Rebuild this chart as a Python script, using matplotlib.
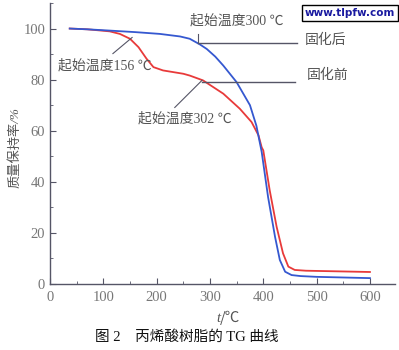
import numpy as np
import matplotlib.pyplot as plt
from matplotlib.ticker import MultipleLocator

plt.rcParams['font.family'] = ['Liberation Serif', 'Noto Sans CJK SC', 'DejaVu Sans']

# 固化后 (blue)
t_after = [37, 70, 112, 160, 206, 244, 262, 281, 294, 310, 325, 350, 375, 387, 397,
           409, 422, 431, 441, 453, 470, 500, 600]
w_after = [100, 99.7, 99.2, 98.6, 97.9, 96.9, 96.0, 93.8, 92.0, 89.0, 85.5, 79, 70, 62, 51.7,
           34, 18.5, 9.4, 4.8, 3.5, 3.1, 2.8, 2.3]
# 固化前 (red)
t_before = [37, 70, 112, 131, 150, 166, 181, 194, 212, 250, 262, 287, 325, 356, 378, 391, 397,
            400, 412, 425, 437, 447, 459, 480, 600]
w_before = [100, 99.7, 98.9, 97.9, 96.0, 92.7, 88.2, 84.9, 83.6, 82.3, 81.6, 79.7, 74.5, 68.6,
            63.4, 58.2, 53.5, 52.3, 36.7, 22.4, 12, 6.8, 5.5, 5.2, 4.7]

xticks = [0, 100, 200, 300, 400, 500, 600]
yticks = [0, 20, 40, 60, 80, 100]

fig = plt.figure(figsize=(3.99, 3.5), dpi=100)
ax = fig.add_axes([50/399, 66/350, 345/399, 281/350])
ax.plot(t_before, w_before, color='#e83a3a', lw=1.3)
ax.plot(t_after, w_after, color='#3558d0', lw=1.3)
ax.set_xlim(0, 647)
ax.set_ylim(0, 110)
ax.set_xticks(xticks)
ax.set_yticks(yticks)
ax.xaxis.set_minor_locator(MultipleLocator(50))
ax.yaxis.set_minor_locator(MultipleLocator(10))
for s in ['top', 'right']:
    ax.spines[s].set_visible(False)
for s in ['left', 'bottom']:
    ax.spines[s].set_color('#555566')
    ax.spines[s].set_linewidth(1.0)
ax.tick_params(which='both', direction='in', colors='#555566', labelcolor='#777777', labelsize=10.5)
ax.tick_params(which='major', length=4)
ax.tick_params(which='minor', length=2.5)
ax.tick_params(axis='x', pad=5)

# annotations
lc = '#555566'
tc = '#555555'
fs = 10
ax.plot([118, 154], [90.2, 96.5], color=lc, lw=0.8)
ax.text(103, 85.5, '起始温度156 ℃', ha='center', va='center', fontsize=fs, color=tc)
ax.plot([234, 285], [69.1, 79.7], color=lc, lw=0.8)
ax.text(253, 64.8, '起始温度302 ℃', ha='center', va='center', fontsize=fs, color=tc)
ax.plot([277.5, 277.5], [98, 94.3], color=lc, lw=0.8)
ax.plot([277.5, 463], [94.3, 94.3], color=lc, lw=1.0)
ax.text(262, 103, '起始温度300 ℃', ha='left', va='center', fontsize=fs, color=tc)
ax.text(478, 95.3, '固化后', ha='left', va='center', fontsize=fs, color=tc)
ax.plot([285, 459], [79, 79], color=lc, lw=1.0)
ax.text(482, 81.6, '固化前', ha='left', va='center', fontsize=fs, color=tc)

fig.text(15/399, 1 - 148/350, '质量保持率/%', rotation=90, ha='center', va='center',
         fontsize=9.5, color=tc, style='italic')
fig.text(220/399, 1 - 318/350, 't', ha='right', va='center', fontsize=10.5, color=tc, style='italic')
fig.text(220/399, 1 - 318/350, '/℃', ha='left', va='center', fontsize=10.5, color=tc,
         family=['Noto Sans CJK SC', 'DejaVu Sans'])
fig.text(187/399, 1 - 337/350, '图 2　丙烯酸树脂的 TG 曲线', ha='center', va='center',
         fontsize=10.5, color='#111111')
fig.text(350/399, 1 - 13/350, 'www.tlpfw.com', ha='center', va='center', fontsize=7.5,
         color='#1a1aa0', weight='bold', family='DejaVu Sans',
         bbox=dict(boxstyle='square,pad=0.3', fc='white', ec='black', lw=1))

fig.savefig('out.png', dpi=100)
